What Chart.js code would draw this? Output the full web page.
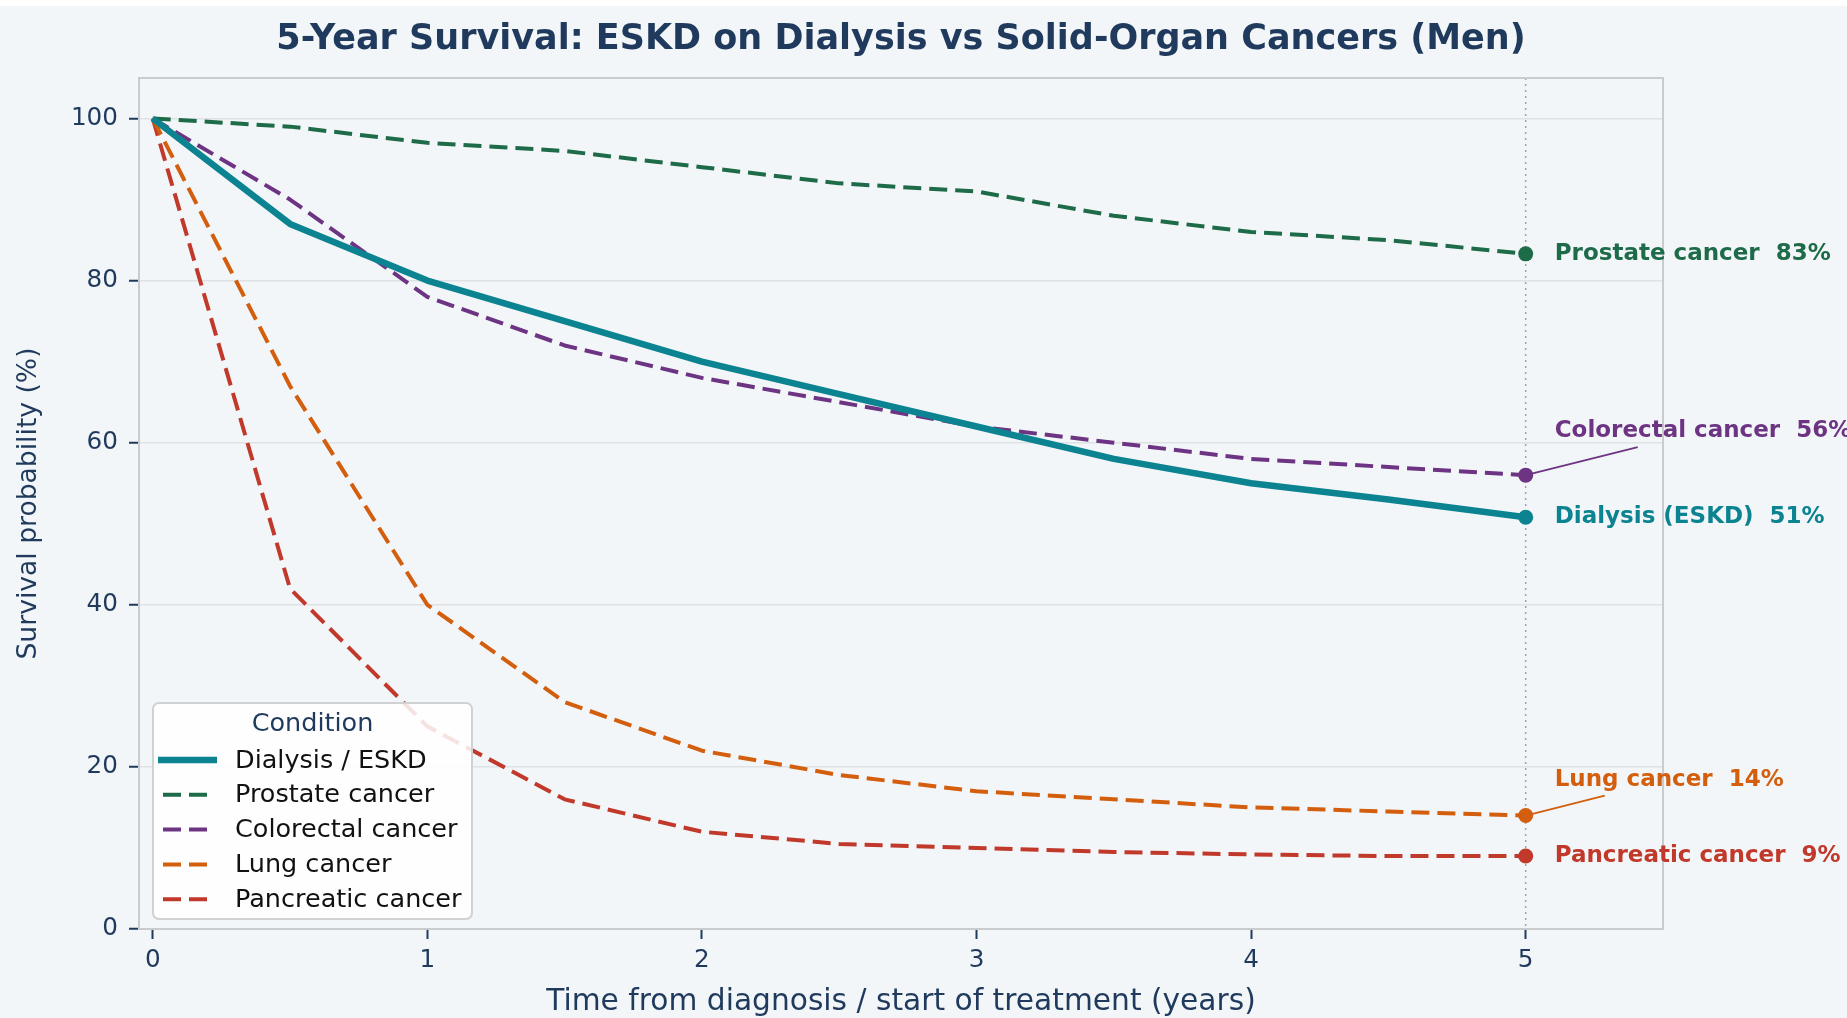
<!DOCTYPE html>
<html>
<head>
<meta charset="utf-8">
<script src="https://cdn.jsdelivr.net/npm/chart.js@4.4.1/dist/chart.umd.min.js"></script>
<style>
  html, body { margin: 0; padding: 0; background: #ffffff; }
  #wrap { width: 1847px; height: 1018px; position: relative; }
</style>
</head>
<body>
<div id="wrap"><canvas id="survivalChart"></canvas></div>
<script>
// Data
const years = [0, 0.5, 1, 1.5, 2, 2.5, 3, 3.5, 4, 4.5, 5];
const dialysis = [100, 87, 80, 75, 70, 66, 62, 58, 55, 53, 50.8];
const prostate = [100, 99, 97, 96, 94, 92, 91, 88, 86, 85, 83.3];
const colorectal = [100, 90, 78, 72, 68, 65, 62, 60, 58, 57, 56];
const lung = [100, 67, 40, 28, 22, 19, 17, 16, 15, 14.5, 14];
const pancreatic = [100, 42, 25, 16, 12, 10.5, 10, 9.5, 9.2, 9, 9];

const seriesNames = ["Dialysis / ESKD", "Prostate cancer", "Colorectal cancer", "Lung cancer", "Pancreatic cancer"];
const endNames = ["Dialysis (ESKD)", "Prostate cancer", "Colorectal cancer", "Lung cancer", "Pancreatic cancer"];
const xTicks = [0, 1, 2, 3, 4, 5];
const yTicks = [0, 20, 40, 60, 80, 100];

const chartTitle = "5-Year Survival: ESKD on Dialysis vs Solid-Organ Cancers (Men)";
const xTitle = "Time from diagnosis / start of treatment (years)";
const yTitle = "Survival probability (%)";
const legendTitle = "Condition";

// Styles
const FONT = "'DejaVu Sans', 'Noto Sans', sans-serif";
const NAVY = "#1f3a5c";
const BG = "#f3f6f8";
const colors = ["#0b8391", "#1d6b48", "#6c3483", "#d35e0d", "#c0392b"];
const DASH = [18, 8];
// pixel offsets of end labels / leader lines
const labelShift = [0, 0, -44, -36, 0];
const leaderEnd = [null, null, [112, -28], [79, -20], null];

const allSeries = [dialysis, prostate, colorectal, lung, pancreatic];

function toPoints(vals) {
  return vals.map((v, i) => ({ x: years[i], y: v }));
}

const datasets = allSeries.map((vals, i) => ({
  label: seriesNames[i],
  data: toPoints(vals),
  borderColor: colors[i],
  backgroundColor: colors[i],
  borderWidth: i === 0 ? 6.5 : 4,
  borderDash: i === 0 ? [] : DASH,
  borderJoinStyle: "round",
  tension: 0,
  fill: false,
  pointRadius: ctx => (ctx.dataIndex === vals.length - 1 ? 7.5 : 0),
  pointHoverRadius: 0,
  pointBorderWidth: 0,
  pointBackgroundColor: colors[i]
}));

// Background, frame, title, guide line
const decor = {
  id: "decor",
  beforeDraw(chart) {
    const c = chart.ctx;
    c.save();
    c.fillStyle = "#ffffff";
    c.fillRect(0, 0, chart.width, chart.height);
    c.fillStyle = BG;
    c.fillRect(0, 6, chart.width, chart.height - 6);
    c.restore();
  },
  beforeDatasetsDraw(chart) {
    const c = chart.ctx;
    const a = chart.chartArea;
    const x5 = chart.scales.x.getPixelForValue(5);
    c.save();
    c.strokeStyle = "#9ea3a8";
    c.lineWidth = 1.5;
    c.setLineDash([2, 4]);
    c.beginPath();
    c.moveTo(x5, a.top);
    c.lineTo(x5, a.bottom);
    c.stroke();
    c.setLineDash([]);
    c.strokeStyle = "#c9cccf";
    c.lineWidth = 2;
    c.strokeRect(a.left, a.top, a.right - a.left, a.bottom - a.top);
    c.restore();
  },
  afterDraw(chart) {
    const c = chart.ctx;
    const a = chart.chartArea;
    c.save();
    c.fillStyle = NAVY;
    c.font = "bold 35px " + FONT;
    c.textAlign = "center";
    c.textBaseline = "middle";
    c.fillText(chartTitle, (a.left + a.right) / 2, 40);
    c.restore();
  }
};

// End-of-line labels at year 5
const endLabels = {
  id: "endLabels",
  afterDatasetsDraw(chart) {
    const c = chart.ctx;
    const xs = chart.scales.x, ys = chart.scales.y;
    c.save();
    c.font = "bold 23px " + FONT;
    c.textBaseline = "middle";
    c.textAlign = "left";
    allSeries.forEach((vals, i) => {
      const last = vals[vals.length - 1];
      const px = xs.getPixelForValue(years[years.length - 1]);
      const py = ys.getPixelForValue(last);
      c.fillStyle = colors[i];
      c.strokeStyle = colors[i];
      if (leaderEnd[i]) {
        c.lineWidth = 1.8;
        c.beginPath();
        c.moveTo(px, py);
        c.lineTo(px + leaderEnd[i][0], py + leaderEnd[i][1]);
        c.stroke();
      }
      c.fillText(endNames[i] + "  " + Math.round(last) + "%", px + 29, py + labelShift[i]);
    });
    c.restore();
  }
};

// Legend box in the lower left
const boxLegend = {
  id: "boxLegend",
  afterDraw(chart) {
    const c = chart.ctx;
    const bx = 153, by = 703, bw = 319, bh = 216, r = 6;
    c.save();
    c.beginPath();
    c.roundRect(bx, by, bw, bh, r);
    c.fillStyle = "rgba(255,255,255,0.86)";
    c.fill();
    c.strokeStyle = "#cfd1d3";
    c.lineWidth = 2;
    c.stroke();

    c.fillStyle = NAVY;
    c.font = "25.5px " + FONT;
    c.textAlign = "center";
    c.textBaseline = "middle";
    c.fillText(legendTitle, bx + bw / 2, 724);

    c.textAlign = "left";
    chart.data.datasets.forEach((ds, i) => {
      const y = 760 + i * 34.8;
      c.strokeStyle = ds.borderColor;
      c.lineWidth = ds.borderWidth;
      c.setLineDash(ds.borderDash);
      c.beginPath();
      if (i === 0) { c.moveTo(158, y); c.lineTo(217, y); }
      else { c.moveTo(163, y); c.lineTo(213, y); }
      c.stroke();
      c.setLineDash([]);
      c.fillStyle = "#111111";
      c.fillText(ds.label, 235, y + 1);
    });
    c.restore();
  }
};

new Chart(document.getElementById("survivalChart"), {
  type: "line",
  data: { datasets },
  options: {
    responsive: true,
    maintainAspectRatio: false,
    animation: false,
    events: [],
    layout: { padding: { left: 0, right: 184, top: 78, bottom: 0 } },
    plugins: {
      legend: { display: false },
      title: { display: false },
      tooltip: { enabled: false }
    },
    scales: {
      x: {
        type: "linear",
        min: -0.05,
        max: 5.5,
        afterBuildTicks: s => { s.ticks = xTicks.map(v => ({ value: v })); },
        afterFit: s => { s.height = 89; },
        border: { display: false },
        grid: { drawOnChartArea: false, drawTicks: true, tickLength: 10, tickColor: NAVY, tickWidth: 2 },
        ticks: { color: NAVY, font: { family: FONT, size: 24.7 }, padding: 7, maxRotation: 0 },
        title: { display: true, text: xTitle, color: NAVY, font: { family: FONT, size: 29.7, lineHeight: 1 }, padding: { top: 0, bottom: 1 } }
      },
      y: {
        type: "linear",
        min: 0,
        max: 105,
        afterBuildTicks: s => { s.ticks = yTicks.map(v => ({ value: v })); },
        afterFit: s => { s.width = 139; },
        border: { display: false },
        grid: { color: "#dfe2e5", lineWidth: 1.5, tickLength: 10, tickColor: NAVY, tickWidth: 2 },
        ticks: { color: NAVY, font: { family: FONT, size: 24.7 }, padding: 11 },
        title: { display: true, text: yTitle, color: NAVY, font: { family: FONT, size: 26.6, lineHeight: 1.2 }, padding: { top: 13, bottom: 0 } }
      }
    }
  },
  plugins: [decor, endLabels, boxLegend]
});
</script>
</body>
</html>
